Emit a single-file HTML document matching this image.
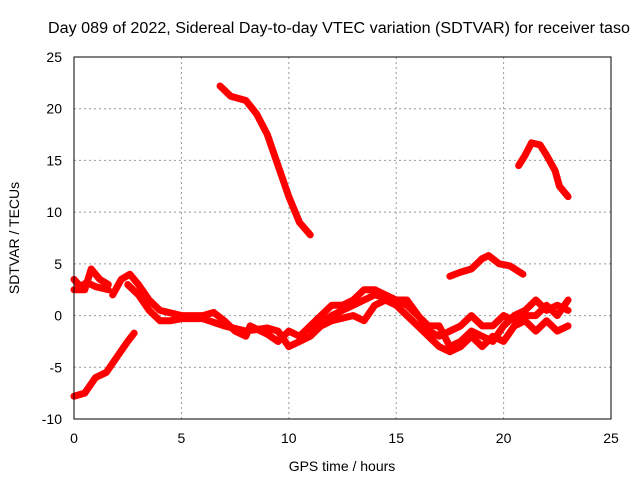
<!DOCTYPE html>
<html><head><meta charset="utf-8"><style>
body{margin:0;background:#fff}
svg{font-family:"Liberation Sans",sans-serif;font-size:14px}
</style></head><body>
<svg width="640" height="480" id="chart">
<text x="339" y="33" text-anchor="middle" font-size="15.5" textLength="582" lengthAdjust="spacingAndGlyphs">Day 089 of 2022, Sidereal Day-to-day VTEC variation (SDTVAR) for receiver taso</text>
<text x="342" y="471" text-anchor="middle">GPS time / hours</text>
<text transform="translate(19,238) rotate(-90)" text-anchor="middle">SDTVAR / TECUs</text>
<g id="grid"></g><g id="series"></g>
<rect x="74" y="57" width="537" height="362" fill="none" stroke="#000" stroke-width="1"/>
</svg>
<script>
const xTicks=[0,5,10,15,20,25];
const yTicks=[-10,-5,0,5,10,15,20,25];
const sA=[[0,3.5],[0.3,2.8],[0.6,3.2],[1,2.8],[1.6,2.5]];
const sA2=[[0,2.5],[0.5,2.5],[0.8,4.5],[1.2,3.5],[1.6,3]];
const sB=[[1.8,2],[2.2,3.5],[2.6,4],[3,3],[3.5,1.5],[4,0.5],[5,0],[6,0],[6.5,0.3],[7,-0.5],[7.5,-1.5],[8,-2],[8.2,-1],[8.5,-1.3],[9,-1.8],[9.5,-2.5],[10,-1.5],[10.5,-2],[11,-1],[11.5,0],[12,1],[12.5,1],[13,1.5],[13.5,2.5],[14,2.5],[15,1.5],[15.5,1],[16,0],[16.5,-1],[17,-1],[17.5,-3],[18,-2.5],[18.5,-1.5],[19,-2],[19.5,-2.5],[20,-1],[20.5,0],[21,0.5],[21.5,1.5],[22,0.5],[22.5,1],[23,0.5]];
const sC=[[2.5,3],[3,2],[3.5,0.5],[4,-0.5],[4.5,-0.5],[5,-0.3],[6,-0.3],[7,-1],[8,-1.5],[9,-1.2],[9.5,-1.5],[10,-3],[10.5,-2.5],[11,-2],[11.5,-1],[12,-0.5],[13,0],[13.5,-0.5],[14,1],[14.5,1.5],[15,1],[15.5,0],[16,-1],[16.5,-2],[17,-3],[17.5,-3.5],[18,-3],[18.5,-2],[19,-3],[19.5,-2],[20,-2.5],[20.5,-1],[21,-0.5],[21.5,-1.5],[22,-0.5],[22.5,-1.5],[23,-1]];
const sC2=[[11,-1.5],[12,0],[12.5,0.5],[13,1],[14,2],[15,1.5],[15.5,1.5],[16.2,-0.5],[16.5,-1.5],[17,-2],[17.5,-1.5],[18,-1],[18.5,0],[19,-1],[19.5,-1],[20,0],[20.5,-0.5],[21,0],[21.5,0],[22,1],[22.5,0],[23,1.5]];
const sD=[[0,-7.8],[0.5,-7.5],[1,-6],[1.5,-5.5],[2,-4],[2.5,-2.5],[2.8,-1.7]];
const sE=[[6.8,22.2],[7.3,21.2],[8,20.8],[8.5,19.5],[9,17.5],[9.5,14.5],[10,11.5],[10.5,9],[11,7.8]];
const sF=[[17.5,3.8],[18,4.2],[18.5,4.5],[19,5.5],[19.3,5.8],[19.8,5],[20.3,4.8],[20.9,4]];
const sG=[[20.7,14.5],[21,15.5],[21.3,16.7],[21.7,16.5],[22,15.5],[22.4,14],[22.6,12.5],[23,11.5]];
const allSeries=[sA,sA2,sB,sC,sC2,sD,sE,sF,sG];
const X=v=>74+v*537/25, Y=v=>419-(v+10)*362/35;
const NS="http://www.w3.org/2000/svg";
const g=document.getElementById('grid'), s=document.getElementById('series');
function mk(tag,at,par){const e=document.createElementNS(NS,tag);for(const k in at)e.setAttribute(k,at[k]);par.appendChild(e);return e;}
xTicks.forEach(t=>{
 if(t>0&&t<25){const l=mk('line',{x1:X(t),x2:X(t),y1:57,y2:419,stroke:'#999','stroke-dasharray':'2,3'},g);
 
 }
 const tx=mk('text',{x:X(t),y:443,'text-anchor':'middle'},g);tx.textContent=t;
 
 
});
yTicks.forEach(t=>{
 if(t>-10&&t<25){const l=mk('line',{x1:74,x2:611,y1:Y(t),y2:Y(t),stroke:'#999','stroke-dasharray':'2,3'},g);
 
 }
 const tx=mk('text',{x:62,y:Y(t)+5,'text-anchor':'end'},g);tx.textContent=t;
 
 
});
allSeries.forEach(d=>{
 const p=mk('polyline',{points:d.map(q=>X(q[0])+','+Y(q[1])).join(' '),fill:'none',stroke:'#ff0000','stroke-width':7,'stroke-linejoin':'round','stroke-linecap':'round'},s);
 
 
});
</script>
</body></html>
